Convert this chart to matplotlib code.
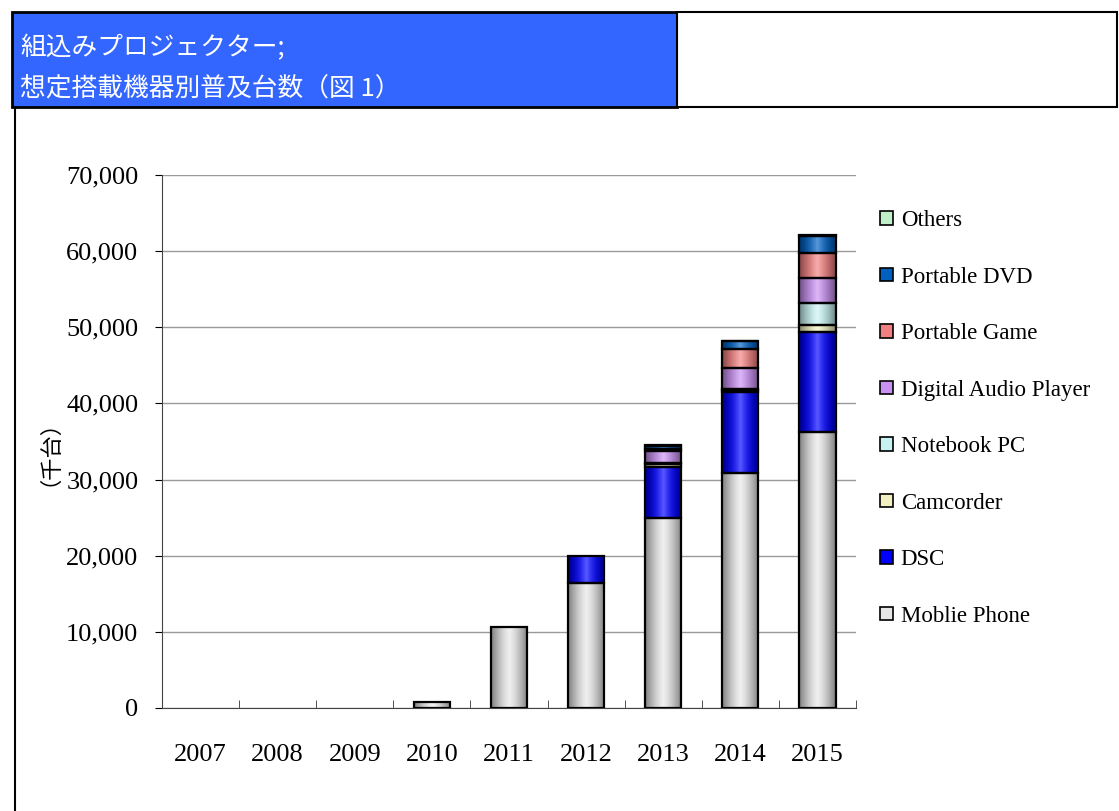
import numpy as np
import matplotlib
matplotlib.use("Agg")
import matplotlib.pyplot as plt
from matplotlib.patches import Rectangle, Patch
from matplotlib.colors import to_rgb

years = ["2007", "2008", "2009", "2010", "2011", "2012", "2013", "2014", "2015"]

# thousand units
mobile_phone = [0, 0, 0, 800, 10700, 16400, 25000, 30800, 36300]
dsc = [0, 0, 0, 0, 0, 3600, 6700, 10700, 13100]
camcorder = [0, 0, 0, 0, 0, 0, 400, 300, 950]
notebook_pc = [0, 0, 0, 0, 0, 0, 100, 100, 2800]
audio_player = [0, 0, 0, 0, 0, 0, 1600, 2700, 3350]
portable_game = [0, 0, 0, 0, 0, 0, 200, 2550, 3300]
portable_dvd = [0, 0, 0, 0, 0, 0, 400, 1000, 2150]
others = [0, 0, 0, 0, 0, 0, 100, 100, 200]

series = [
    ("Moblie Phone", mobile_phone, "#e6e6e6"),
    ("DSC", dsc, "#0000ff"),
    ("Camcorder", camcorder, "#f2f0c0"),
    ("Notebook PC", notebook_pc, "#c8f2f2"),
    ("Digital Audio Player", audio_player, "#c890f0"),
    ("Portable Game", portable_game, "#f08080"),
    ("Portable DVD", portable_dvd, "#0060c0"),
    ("Others", others, "#c0f0c8"),
]

serif = ["Liberation Serif", "DejaVu Serif"]
plt.rcParams["font.family"] = serif

W, H = 1119, 811
fig = plt.figure(figsize=(W / 100, H / 100), dpi=100)


def fx(px):
    return px / W


def fy(py):
    return 1 - py / H


# title boxes
fig.patches.append(Rectangle((fx(12), fy(107)), fx(665), 95 / H, transform=fig.transFigure,
                             facecolor="#3366ff", edgecolor="black", lw=2))
fig.patches.append(Rectangle((fx(677), fy(107)), fx(440), 95 / H, transform=fig.transFigure,
                             facecolor="white", edgecolor="black", lw=1.5))
fig.lines.append(plt.Line2D([fx(15), fx(15)], [fy(107), 0], transform=fig.transFigure,
                            color="black", lw=1.5))
fig.text(fx(20), fy(48), "組込みプロジェクター;", color="white", fontsize=18.5,
         family=["Noto Sans CJK JP"], va="center")
fig.text(fx(20), fy(90), "想定搭載機器別普及台数（図 1）", color="white", fontsize=18.5,
         family=["Noto Sans CJK JP"], va="center")

ax = fig.add_axes([fx(162), fy(708), fx(856 - 162), (708 - 175) / H])
x = np.arange(len(years))
width = 0.47


def shade(ax, rect, color):
    # cylinder-like shading: darker edges, lighter centre
    base = np.array(to_rgb(color))
    t = np.linspace(-1, 1, 64)
    k = 1 - 0.45 * np.abs(t) ** 1.5
    glow = 0.35 * (1 - np.abs(t)) ** 2
    light = np.clip(base[None, :] + (1 - base)[None, :] * glow[:, None], 0, 1)
    img = (light * k[:, None])[None, :, :]
    xx, yy = rect.get_x(), rect.get_y()
    im = ax.imshow(img, extent=[xx, xx + rect.get_width(), yy, yy + rect.get_height()],
                   aspect="auto", zorder=2, interpolation="bilinear")
    im.set_clip_path(rect)


bottom = np.zeros(len(years))
handles = []
for name, vals, color in series:
    vals = np.array(vals, dtype=float)
    bars = ax.bar(x, vals, width, bottom=bottom, color=color, edgecolor="black",
                  lw=1.6, zorder=3)
    for b, v in zip(bars, vals):
        if v > 0:
            b.set_facecolor("none")
            r = Rectangle((b.get_x(), b.get_y()), b.get_width(), b.get_height(),
                          transform=ax.transData, facecolor="none", edgecolor="none")
            ax.add_patch(r)
            shade(ax, r, color)
        else:
            b.set_visible(False)
    bottom += vals
    handles.append(Patch(facecolor=color, edgecolor="black", lw=1.2, label=name))

ax.set_xlim(-0.5, len(years) - 0.5)
ax.set_ylim(0, 70000)
ax.set_yticks(np.arange(0, 70001, 10000))
ax.set_yticklabels([f"{v:,}" for v in range(0, 70001, 10000)])
ax.set_xticks(x)
ax.set_xticklabels(years)
ax.set_xticks(np.arange(-0.5, len(years), 1), minor=True)
ax.tick_params(axis="x", which="major", length=0, pad=26, labelsize=19)
ax.tick_params(axis="x", which="minor", length=6, direction="in", color="#333333")
ax.tick_params(axis="y", length=5, direction="out", pad=12, labelsize=19)
ax.grid(axis="y", color="#999999", lw=1, zorder=0)
ax.set_axisbelow(True)
for s in ["top", "right"]:
    ax.spines[s].set_visible(False)
ax.spines["left"].set_color("#444444")
ax.spines["bottom"].set_color("#444444")

fig.text(fx(38), fy(442), "（千台）", rotation=90, fontsize=16, va="center", ha="center",
         family=["Noto Sans CJK JP"])

fig.legend(handles[::-1], [h.get_label() for h in handles[::-1]], loc="upper left",
           bbox_to_anchor=(fx(880), fy(210)), frameon=False, fontsize=16.5,
           handlelength=0.55, handleheight=0.55, handletextpad=0.35, labelspacing=1.55,
           borderaxespad=0, borderpad=0)

fig.savefig("out.png", dpi=100)
